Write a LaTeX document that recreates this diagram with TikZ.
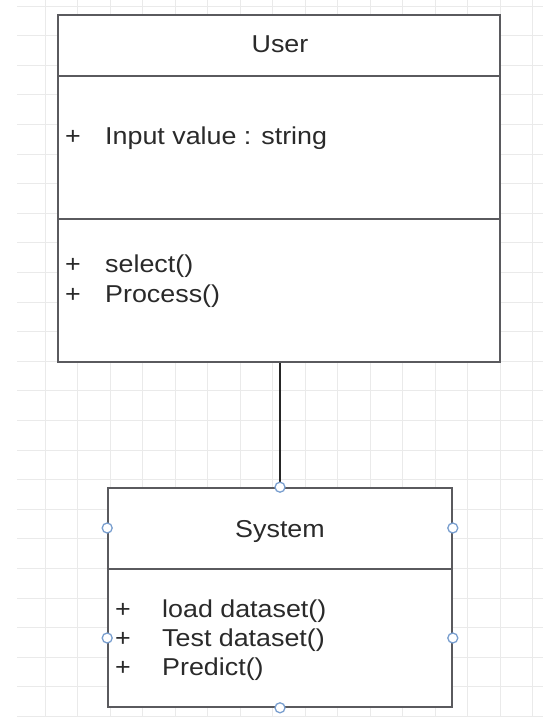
\documentclass[tikz,border=0pt]{standalone}
\usepackage{fontspec}
\setmainfont{Liberation Sans}[FakeStretch=1.1]
\definecolor{gridc}{HTML}{EAEAEA}
\definecolor{boxc}{HTML}{5A5A5E}
\definecolor{txtc}{HTML}{2A2A2A}
\definecolor{portc}{HTML}{7A9FCF}
\tikzset{
  gridline/.style={draw=gridc, line width=0.8bp},
  classbox/.style={draw=boxc, fill=white, line width=1.6bp, inner sep=0pt},
  classline/.style={draw=boxc, line width=1.6bp},
  conn/.style={draw=black!85, line width=1.3bp},
  port/.style={circle, draw=portc, fill=white, line width=1.3bp, minimum size=10bp, inner sep=0pt},
  lbl/.style={text=txtc, inner sep=0pt, font=\fontsize{24.5}{29}\selectfont},
}
\begin{document}
\begin{tikzpicture}[x=1bp,y=-1bp]
\useasboundingbox (0,0) rectangle (543,717);
\fill[white] (0,0) rectangle (543,717);
% grid
\foreach \k in {0,...,24} \draw[gridline] (17,{6+29.6*\k}) -- (543,{6+29.6*\k});
\foreach \k in {0,...,15} \draw[gridline] ({45+32.5*\k},0) -- ({45+32.5*\k},717);
% User class
\node[classbox, minimum width=442bp, minimum height=347bp] (user) at (279,188.5) {};
\draw[classline] (user.west |- 0,76) -- (user.east |- 0,76);
\draw[classline] (user.west |- 0,219) -- (user.east |- 0,219);
\node[lbl, anchor=base] (userT) at (280,53) {User};
\node[lbl, anchor=base] (up1) at (73,144) {+};
\node[lbl, anchor=base west] (ua1) at (105,144) {Input value : string};
\node[lbl, anchor=base] (up2) at (73,272) {+};
\node[lbl, anchor=base west] (um1) at (105,272) {select()};
\node[lbl, anchor=base] (up3) at (73,302) {+};
\node[lbl, anchor=base west] (um2) at (105,302) {Process()};
% System class
\node[classbox, minimum width=344bp, minimum height=219bp] (sys) at (280,597.5) {};
\draw[classline] (sys.west |- 0,569) -- (sys.east |- 0,569);
\node[lbl, anchor=base] (sysT) at (280,537) {System};
\node[lbl, anchor=base] (sp1) at (123,617) {+};
\node[lbl, anchor=base west] (sm1) at (162,617) {load dataset()};
\node[lbl, anchor=base] (sp2) at (123,646) {+};
\node[lbl, anchor=base west] (sm2) at (162,646) {Test dataset()};
\node[lbl, anchor=base] (sp3) at (123,675) {+};
\node[lbl, anchor=base west] (sm3) at (162,675) {Predict()};
% connector
\draw[conn] (user.south -| sys.north) -- (sys.north);
% ports
\node[port] (pN) at (sys.north) {};
\node[port] (pS) at (sys.south) {};
\node[port] (pW1) at (sys.west |- 0,528) {};
\node[port] (pE1) at (sys.east |- 0,528) {};
\node[port] (pW2) at (sys.west |- 0,638) {};
\node[port] (pE2) at (sys.east |- 0,638) {};
\end{tikzpicture}
\end{document}
